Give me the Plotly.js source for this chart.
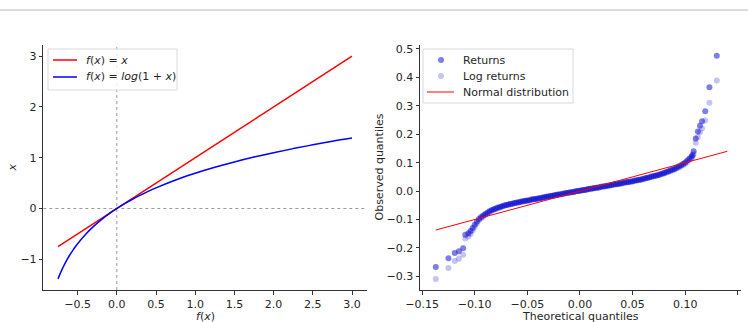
<!DOCTYPE html>
<html>
<head>
<meta charset="utf-8">
<script src="https://cdn.plot.ly/plotly-3.0.1.min.js"></script>
<style>
html,body{margin:0;padding:0;background:#fff;}
#chart{width:748px;height:322px;}
</style>
</head>
<body>
<div id="chart"></div>
<script>
// ---- Left panel data ----
const fxX = [-0.75,-0.7,-0.65,-0.6,-0.55,-0.5,-0.4,-0.3,-0.2,-0.1,0,0.1,0.2,0.3,0.4,0.5,0.75,1.0,1.25,1.5,1.75,2.0,2.25,2.5,2.75,3.0];
const identityY = [-0.75,-0.7,-0.65,-0.6,-0.55,-0.5,-0.4,-0.3,-0.2,-0.1,0,0.1,0.2,0.3,0.4,0.5,0.75,1.0,1.25,1.5,1.75,2.0,2.25,2.5,2.75,3.0];
const logY = [-1.386,-1.204,-1.050,-0.916,-0.799,-0.693,-0.511,-0.357,-0.223,-0.105,0,0.095,0.182,0.262,0.336,0.405,0.560,0.693,0.811,0.916,1.012,1.099,1.179,1.253,1.322,1.386];
const leftXTicks = [-0.5,0,0.5,1.0,1.5,2.0,2.5,3.0];
const leftYTicks = [-1,0,1,2,3];
const leftNames = ['<i>f</i>(<i>x</i>) = <i>x</i>', '<i>f</i>(<i>x</i>) = <i>log</i>(1 + <i>x</i>)'];
const leftXTitle = '<i>f</i>(<i>x</i>)';
const leftYTitle = '<i>x</i>';

// ---- Right panel (QQ plot) data ----
const theoQ = [-0.137,-0.125,-0.119,-0.115,-0.111,-0.109,-0.106,-0.104,-0.102,-0.100,
 -0.098,-0.096,-0.094,-0.092,-0.090,-0.088,-0.086,-0.084,-0.082,-0.080,
 -0.078,-0.076,-0.074,-0.072,-0.070,-0.068,-0.066,-0.064,-0.062,-0.060,
 -0.058,-0.056,-0.054,-0.052,-0.050,-0.048,-0.046,-0.044,-0.042,-0.040,
 -0.038,-0.036,-0.034,-0.032,-0.030,-0.028,-0.026,-0.024,-0.022,-0.020,
 -0.018,-0.016,-0.014,-0.012,-0.010,-0.008,-0.006,-0.004,-0.002,0.000,
 0.002,0.004,0.006,0.008,0.010,0.012,0.014,0.016,0.018,0.020,
 0.022,0.024,0.026,0.028,0.030,0.032,0.034,0.036,0.038,0.040,
 0.042,0.044,0.046,0.048,0.050,0.052,0.054,0.056,0.058,0.060,
 0.062,0.064,0.066,0.068,0.070,0.072,0.074,0.076,0.078,0.080,
 0.082,0.084,0.086,0.088,0.090,0.092,0.094,0.096,0.098,0.100,
 0.102,0.104,0.106,
 0.107,0.108,0.110,0.112,0.114,0.116,0.119,0.123,0.130];
const returnsQ = [-0.267,-0.236,-0.218,-0.212,-0.201,-0.154,-0.148,-0.140,-0.130,-0.118,
 -0.108,-0.098,-0.091,-0.086,-0.081,-0.076,-0.071,-0.067,-0.064,-0.061,
 -0.058,-0.056,-0.053,-0.051,-0.049,-0.047,-0.045,-0.044,-0.042,-0.040,
 -0.039,-0.037,-0.036,-0.034,-0.033,-0.032,-0.030,-0.029,-0.028,-0.026,
 -0.025,-0.023,-0.022,-0.020,-0.019,-0.017,-0.016,-0.015,-0.013,-0.012,
 -0.011,-0.009,-0.008,-0.007,-0.005,-0.004,-0.003,-0.001,0.000,0.001,
 0.003,0.004,0.005,0.007,0.008,0.009,0.011,0.012,0.013,0.015,
 0.016,0.017,0.019,0.020,0.021,0.023,0.024,0.025,0.027,0.028,
 0.030,0.031,0.032,0.034,0.035,0.037,0.038,0.040,0.041,0.043,
 0.045,0.047,0.049,0.051,0.053,0.055,0.057,0.059,0.062,0.064,
 0.067,0.070,0.073,0.076,0.079,0.083,0.087,0.091,0.096,0.101,
 0.108,0.115,0.122,
 0.127,0.140,0.185,0.210,0.230,0.246,0.281,0.365,0.476];
const logReturnsQ = [-0.309,-0.271,-0.246,-0.238,-0.224,-0.167,-0.160,-0.151,-0.139,-0.126,
 -0.114,-0.103,-0.095,-0.090,-0.084,-0.079,-0.074,-0.069,-0.066,-0.063,
 -0.060,-0.058,-0.054,-0.052,-0.050,-0.048,-0.046,-0.045,-0.043,-0.041,
 -0.040,-0.038,-0.037,-0.035,-0.034,-0.033,-0.030,-0.029,-0.028,-0.026,
 -0.025,-0.023,-0.022,-0.020,-0.019,-0.017,-0.016,-0.015,-0.013,-0.012,
 -0.011,-0.009,-0.008,-0.007,-0.005,-0.004,-0.003,-0.001,0.000,0.001,
 0.003,0.004,0.005,0.007,0.008,0.009,0.011,0.012,0.013,0.015,
 0.016,0.017,0.019,0.020,0.021,0.023,0.024,0.025,0.027,0.028,
 0.030,0.031,0.031,0.033,0.034,0.036,0.037,0.039,0.040,0.042,
 0.044,0.046,0.048,0.050,0.052,0.053,0.055,0.057,0.060,0.062,
 0.065,0.068,0.070,0.073,0.076,0.080,0.083,0.087,0.092,0.096,
 0.102,0.109,0.115,
 0.120,0.131,0.170,0.190,0.207,0.220,0.248,0.311,0.389];
const normalX = [-0.137,0.140];
const normalY = [-0.137,0.140];
const rightXTicks = [-0.15,-0.10,-0.05,0.00,0.05,0.10,0.15];
const rightYTicks = [-0.3,-0.2,-0.1,0.0,0.1,0.2,0.3,0.4,0.5];
const rightNames = ['Returns','Log returns','Normal distribution'];
const rightXTitle = 'Theoretical quantiles';
const rightYTitle = 'Observed quantiles';

const FONT = 'DejaVu Sans, sans-serif';
const TXT = '#262626';
const RED = '#ff0000', BLUE = '#0000ff';
const RET_COL = 'rgba(20,20,210,0.55)', LOG_COL = 'rgba(20,20,210,0.25)';

const traces = [
  {x: fxX, y: identityY, type:'scatter', mode:'lines', name:leftNames[0],
   line:{color:RED, width:1.5}, xaxis:'x', yaxis:'y'},
  {x: fxX, y: logY, type:'scatter', mode:'lines', name:leftNames[1],
   line:{shape:'spline', color:BLUE, width:1.5}, xaxis:'x', yaxis:'y'},
  {x: theoQ, y: returnsQ, type:'scatter', mode:'markers', name:rightNames[0],
   marker:{color:RET_COL, size:6, line:{width:0}}, xaxis:'x2', yaxis:'y2'},
  {x: theoQ, y: logReturnsQ, type:'scatter', mode:'markers', name:rightNames[1],
   marker:{color:LOG_COL, size:6, line:{width:0}}, xaxis:'x2', yaxis:'y2'},
  {x: normalX, y: normalY, type:'scatter', mode:'lines', name:rightNames[2],
   line:{color:RED, width:1}, xaxis:'x2', yaxis:'y2'}
];

const axisCommon = {
  showgrid:false, zeroline:false, showline:true, linecolor:'#333', linewidth:1,
  ticks:'outside', ticklen:3.5, tickwidth:1, tickcolor:'#333',
  tickfont:{family:FONT, size:11, color:TXT}, mirror:false
};

// pixel -> paper helpers (legend boxes / titles only)
const W = 748, H = 322;
const px = v => v / W, py = v => (H - v) / H;
const yd = [32/322, 277/322];
const xdL = [43.3/748, 366.7/748], xdR = [420/748, 741/748];

const shapes = [
  {type:'line', xref:'x', yref:'y domain', x0:0, x1:0, y0:0, y1:1, layer:'below',
   line:{color:'#999', width:1, dash:'dot'}},
  {type:'line', xref:'x domain', yref:'y', x0:0, x1:1, y0:0, y1:0, layer:'below',
   line:{color:'#999', width:1, dash:'dot'}},
  {type:'line', xref:'paper', yref:'paper', x0:0, x1:1, y0:py(10), y1:py(10),
   line:{color:'#dcdcdc', width:2}},
  // left legend box
  {type:'rect', xref:'paper', yref:'paper', x0:px(48), x1:px(177), y0:py(49), y1:py(90),
   fillcolor:'rgba(255,255,255,0.8)', line:{color:'#d9d9d9', width:1}},
  {type:'line', xref:'paper', yref:'paper', x0:px(53), x1:px(77), y0:py(60), y1:py(60), line:{color:RED, width:1.5}},
  {type:'line', xref:'paper', yref:'paper', x0:px(53), x1:px(77), y0:py(77), y1:py(77), line:{color:BLUE, width:1.5}},
  // right legend box
  {type:'rect', xref:'paper', yref:'paper', x0:px(423), x1:px(573), y0:py(49), y1:py(103),
   fillcolor:'rgba(255,255,255,0.8)', line:{color:'#d9d9d9', width:1}},
  {type:'circle', xref:'paper', yref:'paper', x0:px(438), x1:px(444), y0:py(57), y1:py(63), fillcolor:RET_COL, line:{width:0}},
  {type:'circle', xref:'paper', yref:'paper', x0:px(438), x1:px(444), y0:py(73), y1:py(79), fillcolor:LOG_COL, line:{width:0}},
  {type:'line', xref:'paper', yref:'paper', x0:px(427), x1:px(454), y0:py(92), y1:py(92), line:{color:RED, width:1}}
];

const legFont = {family:FONT, size:11, color:TXT};
const annotations = [
  {xref:'paper', yref:'paper', x:px(84), y:py(60), text:leftNames[0], showarrow:false, xanchor:'left', yanchor:'middle', font:legFont},
  {xref:'paper', yref:'paper', x:px(84), y:py(77), text:leftNames[1], showarrow:false, xanchor:'left', yanchor:'middle', font:legFont},
  {xref:'paper', yref:'paper', x:px(461), y:py(60), text:rightNames[0], showarrow:false, xanchor:'left', yanchor:'middle', font:legFont},
  {xref:'paper', yref:'paper', x:px(461), y:py(76), text:rightNames[1], showarrow:false, xanchor:'left', yanchor:'middle', font:legFont},
  {xref:'paper', yref:'paper', x:px(461), y:py(92), text:rightNames[2], showarrow:false, xanchor:'left', yanchor:'middle', font:legFont},
  // axis titles placed explicitly (zero margins would otherwise clamp them)
  {xref:'paper', yref:'paper', x:px(12), y:(yd[0]+yd[1])/2, text:leftYTitle, textangle:-90, showarrow:false,
   xanchor:'center', yanchor:'middle', font:legFont},
  {xref:'paper', yref:'paper', x:(xdL[0]+xdL[1])/2, y:py(316.5), text:leftXTitle, showarrow:false,
   xanchor:'center', yanchor:'middle', font:legFont, borderpad:0},
  {xref:'paper', yref:'paper', x:(xdR[0]+xdR[1])/2, y:py(316), text:rightXTitle, showarrow:false,
   xanchor:'center', yanchor:'middle', font:legFont, borderpad:0},
  {xref:'paper', yref:'paper', x:px(379), y:(yd[0]+yd[1])/2, text:rightYTitle, textangle:-90, showarrow:false,
   xanchor:'center', yanchor:'middle', font:legFont}
];

const layout = {
  width:W, height:H,
  margin:{l:0, r:0, t:0, b:0},
  paper_bgcolor:'#fff', plot_bgcolor:'#fff',
  font:{family:FONT, size:11, color:TXT},
  showlegend:false,
  xaxis: Object.assign({}, axisCommon, {domain:xdL, range:[-0.9375, 3.1875],
    tickvals:leftXTicks, tickformat:'.1f', anchor:'y'}),
  yaxis: Object.assign({}, axisCommon, {domain:yd, range:[-1.605, 3.219],
    tickvals:leftYTicks, anchor:'x'}),
  xaxis2: Object.assign({}, axisCommon, {domain:xdR, range:[-0.152, 0.153],
    tickvals:rightXTicks, tickformat:'.2f', anchor:'y2'}),
  yaxis2: Object.assign({}, axisCommon, {domain:yd, range:[-0.348, 0.514],
    tickvals:rightYTicks, tickformat:'.1f', anchor:'x2'}),
  shapes: shapes,
  annotations: annotations
};

Plotly.newPlot('chart', traces, layout, {displayModeBar:false, staticPlot:true});
</script>
</body>
</html>
